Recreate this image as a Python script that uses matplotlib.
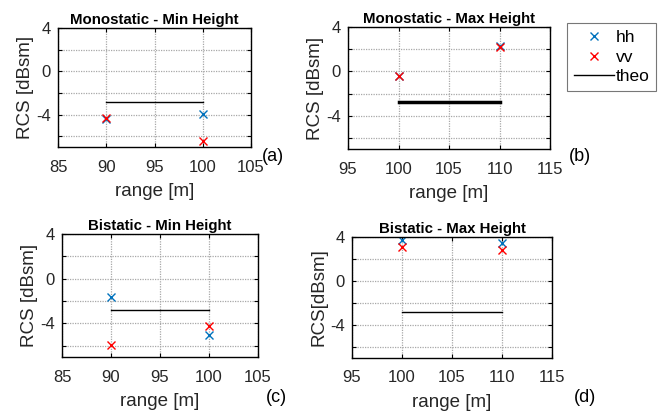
import matplotlib.pyplot as plt
import numpy as np

plt.rcParams['font.family'] = ['Liberation Sans', 'DejaVu Sans']

# data
rng_min = [90, 100]
rng_max = [100, 110]
theo_level = -2.8

mono_min_hh = [-4.45, -3.95]
mono_min_vv = [-4.3, -6.45]
mono_max_hh = [-0.4, 2.3]
mono_max_vv = [-0.45, 2.18]
bi_min_hh = [-1.6, -5.0]
bi_min_vv = [-5.95, -4.2]
bi_max_hh = [3.75, 3.45]
bi_max_vv = [3.05, 2.85]

titles = ['Monostatic - Min Height', 'Monostatic - Max Height',
          'Bistatic - Min Height', 'Bistatic - Max Height']
ylabels = ['RCS [dBsm]', 'RCS [dBsm]', 'RCS [dBsm]', 'RCS[dBsm]']
tags = ['(a)', '(b)', '(c)', '(d)']

W, H = 666, 412
# axes boxes in pixels: left, top, right, bottom
boxes = [(58, 28, 251, 147), (348, 27, 550, 149),
         (62, 234, 258, 357), (352, 237, 552, 358)]
tag_pos = [(262, 157), (569, 157), (266, 398), (574, 398)]

blue = '#0072BD'
red = '#FF0000'
txt = '#262626'

fig = plt.figure(figsize=(W / 100, H / 100), dpi=100)

sets = [(rng_min, mono_min_hh, mono_min_vv, 1.0),
        (rng_max, mono_max_hh, mono_max_vv, 2.5),
        (rng_min, bi_min_hh, bi_min_vv, 1.0),
        (rng_max, bi_max_hh, bi_max_vv, 1.0)]

for i, (r, hh, vv, lw) in enumerate(sets):
    l, t, rr, b = boxes[i]
    ax = fig.add_axes([l / W, 1 - b / H, (rr - l) / W, (b - t) / H])
    h1, = ax.plot(r, hh, 'x', color=blue, ms=6, mew=1.0, label='hh')
    h2, = ax.plot(r, vv, 'x', color=red, ms=6, mew=1.0, label='vv')
    h3, = ax.plot(r, [theo_level, theo_level], '-', color='black', lw=lw, label='theo')
    ax.set_xlim(r[0] - 5, r[1] + 5)
    ax.set_ylim(-7, 4)
    ax.set_xticks(np.arange(r[0] - 5, r[1] + 6, 5))
    ax.set_yticks([-6, -4, -2, 0, 2, 4])
    ax.set_yticklabels(['', '-4', '', '0', '', '4'])
    ax.grid(True, color='#a8a8a8', linestyle=(0, (1, 1)), linewidth=0.9)
    ax.tick_params(direction='in', top=True, right=True, labelsize=12,
                   length=3, color='black', labelcolor=txt, pad=5)
    ax.tick_params(axis='x', pad=9)
    for s in ax.spines.values():
        s.set_linewidth(1.0)
    ax.set_title(titles[i], fontsize=10.8, fontweight='bold', pad=3)
    ax.set_xlabel('range [m]', fontsize=13.5, labelpad=6, color=txt)
    ax.set_ylabel(ylabels[i], fontsize=13.5, labelpad=2, color=txt)
    fig.text(tag_pos[i][0] / W, 1 - tag_pos[i][1] / H, tags[i], fontsize=13,
             ha='left', va='center')

leg = fig.legend([h1, h2, h3], ['hh', 'vv', 'theo'],
                 loc='upper left', bbox_to_anchor=(567 / W, 1 - 23 / H),
                 fontsize=12.5, frameon=True, fancybox=False, edgecolor='#555555',
                 handlelength=2.3, borderpad=0.4, labelspacing=0.25,
                 handletextpad=0.1, borderaxespad=0)
leg.get_frame().set_linewidth(0.8)

fig.savefig('out.png', dpi=100)
